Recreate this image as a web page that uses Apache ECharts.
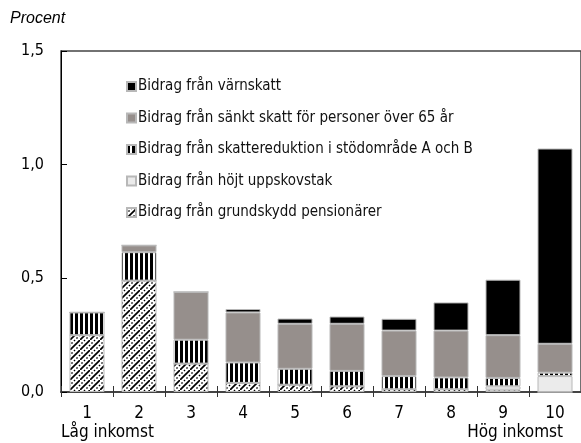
<!DOCTYPE html>
<html>
<head>
<meta charset="utf-8">
<script src="https://cdn.jsdelivr.net/npm/echarts@6/dist/echarts.min.js"></script>
<style>
  html, body { margin: 0; padding: 0; background: #fff; }
  #chart { width: 581px; height: 443px; }
</style>
</head>
<body>
<div id="chart"></div>
<script>
// deciler, lag till hog inkomst
const categories = ['1', '2', '3', '4', '5', '6', '7', '8', '9', '10']
const yTicks = ['0,0', '0,5', '1,0', '1,5']

// bidrag i procent, stapelordning nerifran och upp
const grundskydd = [0.25, 0.49, 0.125, 0.04, 0.032, 0.025, 0.012, 0.012, 0.01, 0]
const uppskovstak = [0, 0, 0, 0, 0, 0, 0, 0, 0.015, 0.07]
const stodomrade = [0.10, 0.125, 0.105, 0.09, 0.07, 0.068, 0.058, 0.052, 0.037, 0.015]
const sanktSkatt = [0, 0.03, 0.21, 0.22, 0.198, 0.207, 0.2, 0.206, 0.188, 0.127]
const varnskatt = [0, 0, 0, 0.015, 0.023, 0.032, 0.052, 0.124, 0.244, 0.859]

const names = {
    varn: 'Bidrag från värnskatt',
    sankt: 'Bidrag från sänkt skatt för personer över 65 år',
    stod: 'Bidrag från skattereduktion i stödområde A och B',
    uppskov: 'Bidrag från höjt uppskovstak',
    grund: 'Bidrag från grundskydd pensionärer'
}

const font = '"Liberation Sans Narrow", "DejaVu Sans Condensed", "Liberation Sans", sans-serif'

// monster for de randiga staplarna
const makeHatch = () => {
    let c = document.createElement('canvas')
    c.width = 10
    c.height = 10
    let ctx = c.getContext('2d')
    ctx.fillStyle = '#fff'
    ctx.fillRect(0, 0, 10, 10)
    ctx.strokeStyle = '#000'
    ctx.lineWidth = 1.7
    ctx.beginPath()
    ctx.moveTo(-1, 11); ctx.lineTo(11, -1)
    ctx.stroke()
    ctx.lineWidth = 1.4
    ctx.setLineDash([1.5, 2])
    ctx.beginPath()
    ctx.moveTo(-1, 6); ctx.lineTo(6, -1)
    ctx.moveTo(4, 11); ctx.lineTo(11, 4)
    ctx.stroke()
    return c
}
const makeStripes = () => {
    let c = document.createElement('canvas')
    c.width = 5
    c.height = 4
    let ctx = c.getContext('2d')
    ctx.fillStyle = '#fff'
    ctx.fillRect(0, 0, 5, 4)
    ctx.fillStyle = '#000'
    ctx.fillRect(0, 0, 3, 4)
    return c
}

const border = { borderColor: '#b8b8b8', borderWidth: 1 }
const bar = (name, data, color) => ({
    name: name,
    type: 'bar',
    stack: 'total',
    barWidth: 35,
    data: data,
    itemStyle: Object.assign({ color: color }, border),
    emphasis: { disabled: true }
})

const chart = echarts.init(document.getElementById('chart'), null, { renderer: 'canvas' })
chart.setOption({
    animation: false,
    backgroundColor: '#fff',
    textStyle: { fontFamily: font },
    grid: {
        left: 61,
        top: 51,
        width: 523,
        height: 341,
        show: true,
        borderColor: '#444',
        borderWidth: 1.5
    },
    legend: {
        orient: 'vertical',
        left: 121,
        top: 74,
        itemWidth: 9,
        itemHeight: 9,
        itemGap: 16.5,
        icon: 'rect',
        selectedMode: false,
        data: [names.varn, names.sankt, names.stod, names.uppskov, names.grund],
        textStyle: { fontFamily: font, fontSize: 15, color: '#111', padding: [0, 0, 0, -3] }
    },
    xAxis: [
        {
            type: 'category',
            data: categories,
            axisLine: { lineStyle: { color: '#444', width: 2 } },
            axisTick: { show: true, inside: false, length: 5, lineStyle: { color: '#333' } },
            axisLabel: { color: '#000', fontFamily: font, fontSize: 17, margin: 13 }
        },
        {
            type: 'category',
            data: categories,
            position: 'bottom',
            axisLine: { show: false },
            axisTick: { show: true, inside: true, length: 6, lineStyle: { color: '#333' } },
            axisLabel: { show: false }
        }
    ],
    yAxis: {
        type: 'value',
        min: 0,
        max: 1.5,
        interval: 0.5,
        splitLine: { show: false },
        axisLine: { show: true, lineStyle: { color: '#000', width: 1 } },
        axisTick: { show: true, inside: true, length: 6, lineStyle: { color: '#000' } },
        axisLabel: {
            color: '#000',
            fontFamily: font,
            fontSize: 16,
            margin: 17,
            formatter: (v) => yTicks[Math.round(v / 0.5)]
        }
    },
    graphic: [
        { type: 'text', left: 10, top: 11, style: { text: 'Procent', font: 'italic 16px "Liberation Sans", sans-serif', fill: '#000' } },
        { type: 'text', left: 61, top: 424, style: { text: 'Låg inkomst', font: '17px ' + font, fill: '#000' } },
        { type: 'text', right: 18, top: 424, style: { text: 'Hög inkomst', font: '17px ' + font, fill: '#000' } }
    ],
    series: [
        bar(names.grund, grundskydd, { image: makeHatch(), repeat: 'repeat' }),
        bar(names.uppskov, uppskovstak, '#ebebeb'),
        bar(names.stod, stodomrade, { image: makeStripes(), repeat: 'repeat' }),
        bar(names.sankt, sanktSkatt, '#968f8c'),
        bar(names.varn, varnskatt, '#000')
    ]
})
</script>
</body>
</html>
